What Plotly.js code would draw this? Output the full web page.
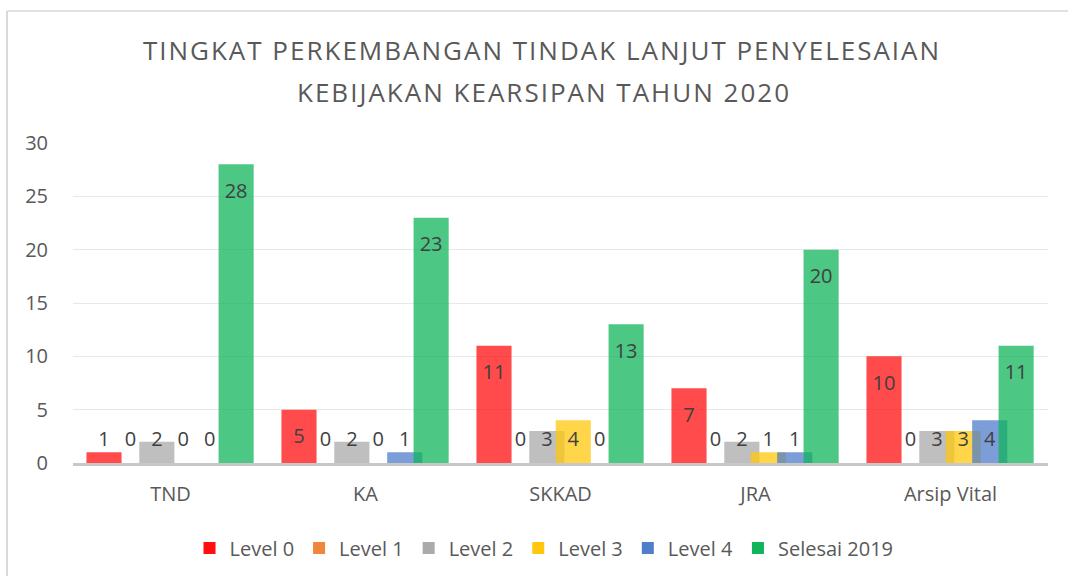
<!DOCTYPE html>
<html>
<head>
<meta charset="utf-8">
<script src="https://cdn.plot.ly/plotly-3.0.1.min.js"></script>
<style>
html,body{margin:0;padding:0;background:#fff;}
#chart{width:1068px;height:576px;}
#chart .gtitle, #chart .annotation-text{letter-spacing:2px;}
</style>
</head>
<body>
<div id="chart"></div>
<script>
// ---- data ----
const titleLines = ["TINGKAT PERKEMBANGAN TINDAK LANJUT PENYELESAIAN", "KEBIJAKAN KEARSIPAN TAHUN 2020"];
const categories = ["TND", "KA", "SKKAD", "JRA", "Arsip Vital"];
const seriesNames = ["Level 0", "Level 1", "Level 2", "Level 3", "Level 4", "Selesai 2019"];
const level0 = [1, 5, 11, 7, 10];
const level1 = [0, 0, 0, 0, 0];
const level2 = [2, 2, 3, 2, 3];
const level3 = [0, 0, 4, 1, 3];
const level4 = [0, 1, 0, 1, 4];
const selesai2019 = [28, 23, 13, 20, 11];
const yTicks = [0, 5, 10, 15, 20, 25, 30];

// ---- styling ----
const colors = ["rgb(255,15,15)", "rgb(240,134,59)", "rgb(170,170,170)", "rgb(255,199,14)", "rgb(79,126,203)", "rgb(16,180,91)"];
const seriesValues = [level0, level1, level2, level3, level4, selesai2019];
const step = 0.1355;      // distance between bar starts (category units)
const barW = 0.18;        // bar width (category units)
const firstOffset = -0.431;
const idx = categories.map((_, i) => i);
const FONT = "Open Sans, Noto Sans, sans-serif";

const traces = [];
seriesValues.forEach((vals, s) => {
  traces.push({
    type: "bar",
    name: seriesNames[s],
    x: idx,
    y: vals,
    offset: firstOffset + s * step,
    width: barW,
    marker: {color: colors[s], opacity: 0.75, line: {width: 0}},
    hoverinfo: "y+name"
  });
});
seriesValues.forEach((vals, s) => {
  traces.push({
    type: "scatter",
    mode: "text",
    x: idx.map(i => i + firstOffset + s * step + barW / 2),
    y: vals.map(v => Math.max(v - 2.7, 2.1)),
    text: vals.map(v => String(v)),
    textposition: "middle center",
    textfont: {family: FONT, size: 20, color: "#404040"},
    showlegend: false,
    hoverinfo: "skip",
    cliponaxis: false
  });
});

const L = 73, R = 20, T = 143, B = 113;
const pw = 1068 - L - R, ph = 576 - T - B;
const px = v => (v - L) / pw;
const py = v => (576 - B - v) / ph;

const layout = {
  width: 1068, height: 576,
  margin: {l: L, r: R, t: T, b: B, pad: 0},
  paper_bgcolor: "#ffffff", plot_bgcolor: "#ffffff",
  barmode: "overlay",
  font: {family: FONT, color: "#595959"},
  title: {
    text: titleLines[0],
    font: {family: FONT, size: 26, color: "#595959"},
    x: 542 / 1068, xanchor: "center", xref: "container",
    y: 1 - 51 / 576, yanchor: "middle", yref: "container"
  },
  annotations: [{
    text: titleLines[1],
    font: {family: FONT, size: 26, color: "#595959"},
    xref: "paper", yref: "paper",
    x: px(544), y: py(92), xanchor: "center", yanchor: "middle",
    showarrow: false
  }],
  xaxis: {
    type: "linear",
    range: [-0.5, categories.length - 0.5],
    tickvals: idx, ticktext: categories,
    showgrid: false, zeroline: false,
    showline: true, linecolor: "#C8C8C8", linewidth: 3,
    ticks: "", ticklabelstandoff: 11,
    tickfont: {family: FONT, size: 20, color: "#595959"},
    fixedrange: true
  },
  yaxis: {
    range: [0, 30],
    tickvals: yTicks,
    showgrid: true, gridcolor: "#E8E8E8", gridwidth: 1,
    zeroline: false, showline: false,
    ticks: "", ticklabelstandoff: 24,
    tickfont: {family: FONT, size: 20, color: "#595959"},
    fixedrange: true
  },
  legend: {
    orientation: "h",
    x: 544 / 1068, xref: "container", xanchor: "center",
    y: 1 - 548 / 576, yref: "container", yanchor: "middle",
    font: {family: FONT, size: 20, color: "#595959"},
    itemwidth: 30,
    traceorder: "normal"
  },
  shapes: [
    {type: "line", xref: "paper", yref: "paper", x0: px(7), x1: px(7), y0: py(11), y1: py(576), line: {color: "#D9D9D9", width: 2}},
    {type: "line", xref: "paper", yref: "paper", x0: px(7), x1: px(1068), y0: py(11), y1: py(11), line: {color: "#D9D9D9", width: 1.5}}
  ],
  showlegend: true
};

Plotly.newPlot("chart", traces, layout, {displayModeBar: false, staticPlot: true});
</script>
</body>
</html>
